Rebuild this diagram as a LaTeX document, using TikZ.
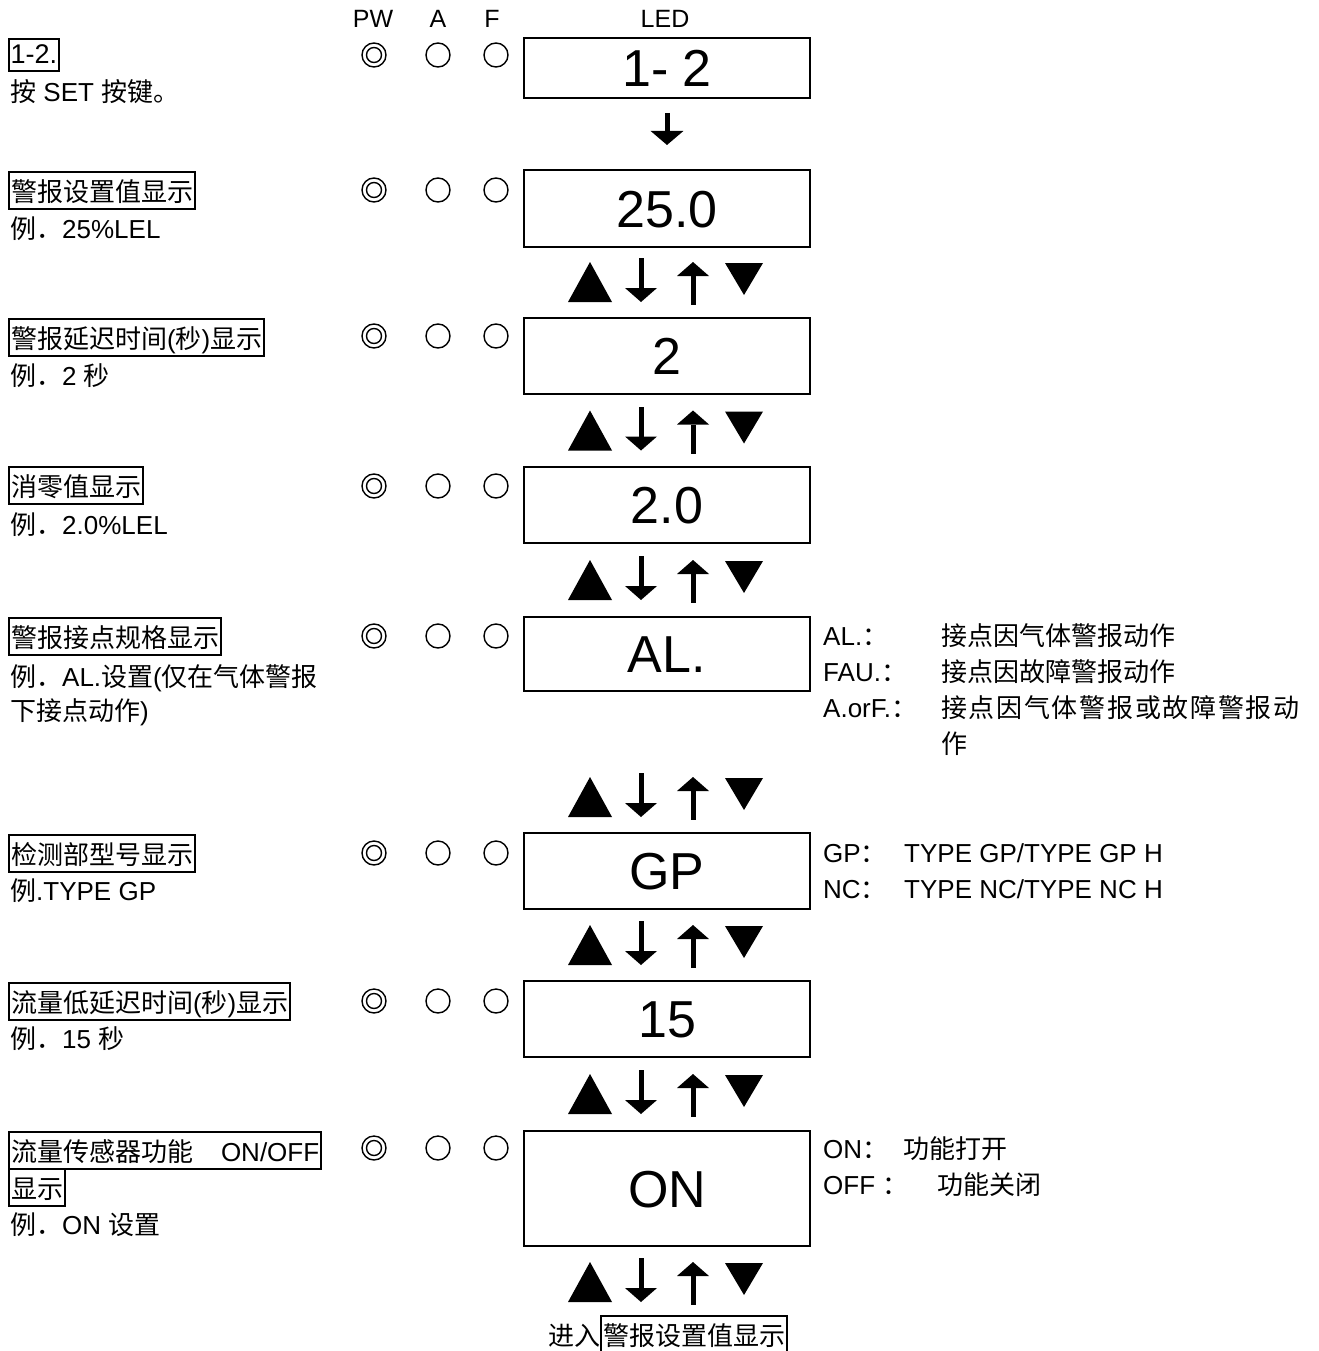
\documentclass[tikz,border=0pt]{standalone}
\usepackage{fontspec}
\setmainfont{Liberation Sans}
\newfontfamily\cjk{Noto Sans CJK SC}
\newfontfamily\cjkwide[LetterSpace=6.5]{Noto Sans CJK SC}
\newcommand\zh[1]{{\cjk #1}}
\usetikzlibrary{arrows.meta}
\begin{document}
\begin{tikzpicture}[x=1pt,y=-1pt,
  every node/.style={inner sep=0pt, font=\fontsize{26}{30}\selectfont},
  lbl/.style={draw, line width=2pt, inner xsep=2pt, inner ysep=0pt,
    text height=29pt, text depth=8pt, anchor=base west},
  txt/.style={anchor=base west},
  hdr/.style={anchor=base, font=\fontsize{25}{30}\selectfont},
  ledbox/.style={draw, line width=2pt, minimum width=286pt,
    text height=37pt, text depth=0pt, font=\fontsize{52}{58}\selectfont},
  lamp/.style={circle, draw, line width=1.4pt, minimum size=24pt},
  ring/.style={line width=1.4pt},
  keys/.pic={
    \fill (-98,20) -- (-54,20) -- (-76,-20) -- cycle;
    \fill (-27.5,-24) rectangle (-22.5,6);
    \fill (-41,6) -- (-9,6) -- (-25,20) -- cycle;
    \fill (24.5,23) rectangle (29.5,-6);
    \fill (11,-6) -- (43,-6) -- (27,-20) -- cycle;
    \fill (59,-19) -- (97,-19) -- (78,13) -- cycle;
  }
]
\useasboundingbox (0,0) rectangle (1318,1351);

\newcommand\lamps[2]{%
  \node[lamp] (#1pw) at (374,#2) {};
  \draw[ring] (#1pw.center) circle (7.5pt);
  \node[lamp] (#1a) at (438,#2) {};
  \node[lamp] (#1f) at (496,#2) {};
}

% header
\node[hdr] (hpw) at (373,28) {PW};
\node[hdr] (ha) at (438,28) {A};
\node[hdr] (hf) at (492,28) {F};
\node[hdr] (hled) at (665,28) {LED};

% row 1
\node[draw, line width=2pt, inner xsep=1.5pt, inner ysep=0pt, text height=25pt,
  text depth=7pt, anchor=base west, font=\fontsize{27}{30}\selectfont] (l1) at (8,64) {1-2.};
\node[txt] (l1b) at (10,102) {\zh{按} SET \zh{按键。}};
\lamps{r1}{55}
\node[ledbox, minimum height=60pt] (led1) at (667,68) {1- 2};

% row 2
\node[lbl] (l2) at (8,201) {\zh{警报设置值显示}};
\node[txt] (l2b) at (10,238) {\zh{例．}25\%LEL};
\lamps{r2}{190}
\node[ledbox, minimum height=77pt] (led2) at (667,208.5) {25.0};

\draw[line width=5pt, -{Triangle[width=32pt,length=14pt]}, shorten <=14pt, shorten >=24pt] (led1) -- (led2);

\pic at (666,282) {keys};

% row 3
\node[lbl] (l3) at (8,348) {\zh{警报延迟时间}(\zh{秒})\zh{显示}};
\node[txt] (l3b) at (10,385) {\zh{例．}2 \zh{秒}};
\lamps{r3}{336}
\node[ledbox, minimum height=76pt] (led3) at (667,356) {2};

\pic at (666,430.5) {keys};

% row 4
\node[lbl] (l4) at (8,496) {\zh{消零值显示}};
\node[txt] (l4b) at (10,534) {\zh{例．}2.0\%LEL};
\lamps{r4}{486}
\node[ledbox, minimum height=76pt] (led4) at (667,505) {2.0};

\pic at (666,580) {keys};

% row 5
\node[lbl] (l5) at (8,647) {\zh{警报接点规格显示}};
\node[txt] (l5b) at (10,686) {\zh{例．}AL.\zh{设置}(\zh{仅在气体警报}};
\node[txt] (l5c) at (10,720) {\zh{下接点动作})};
\lamps{r5}{636}
\node[ledbox, minimum height=74pt] (led5) at (667,654) {AL.};
\node[txt] (n5a) at (823,645) {AL.\zh{：}};
\node[txt] (n5b) at (941,645) {\zh{接点因气体警报动作}};
\node[txt] (n5c) at (823,681) {FAU.\zh{：}};
\node[txt] (n5d) at (941,681) {\zh{接点因故障警报动作}};
\node[txt] (n5e) at (823,717) {A.orF.\zh{：}};
\node[txt] (n5f) at (941,717) {{\cjkwide 接点因气体警报或故障警报动}};
\node[txt] (n5g) at (941,753) {\zh{作}};

\pic at (666,797) {keys};

% row 6
\node[lbl] (l6) at (8,864) {\zh{检测部型号显示}};
\node[txt] (l6b) at (10,900) {\zh{例}.TYPE GP};
\lamps{r6}{853}
\node[ledbox, minimum height=76pt] (led6) at (667,871) {GP};
\node[txt] (n6a) at (823,862) {GP\zh{：}};
\node[txt] (n6b) at (904,862) {TYPE GP/TYPE GP H};
\node[txt] (n6c) at (823,898) {NC\zh{：}};
\node[txt] (n6d) at (904,898) {TYPE NC/TYPE NC H};

\pic at (666,945) {keys};

% row 7
\node[lbl] (l7) at (8,1012) {\zh{流量低延迟时间}(\zh{秒})\zh{显示}};
\node[txt] (l7b) at (10,1048) {\zh{例．}15 \zh{秒}};
\lamps{r7}{1001}
\node[ledbox, minimum height=76pt] (led7) at (667,1019) {15};

\pic at (666,1094) {keys};

% row 8
\node[lbl] (l8) at (8,1161) {\zh{流量传感器功能}\hspace*{28pt}ON/OFF};
\node[lbl] (l8x) at (8,1198) {\zh{显示}};
\node[txt] (l8b) at (10,1234) {\zh{例．}ON \zh{设置}};
\lamps{r8}{1148}
\node[ledbox, minimum height=115pt] (led8) at (667,1188.5) {ON};
\node[txt] (n8a) at (823,1158) {ON\zh{：}};
\node[txt] (n8b) at (903,1158) {\zh{功能打开}};
\node[txt] (n8c) at (823,1194) {OFF \zh{：}};
\node[txt] (n8d) at (937,1194) {\zh{功能关闭}};

\pic at (666,1282) {keys};

% bottom
\node[txt] (enter) at (548,1345) {\zh{进入}};
\node[lbl] (goto) at (enter.base east) {\zh{警报设置值显示}};

\end{tikzpicture}
\end{document}
